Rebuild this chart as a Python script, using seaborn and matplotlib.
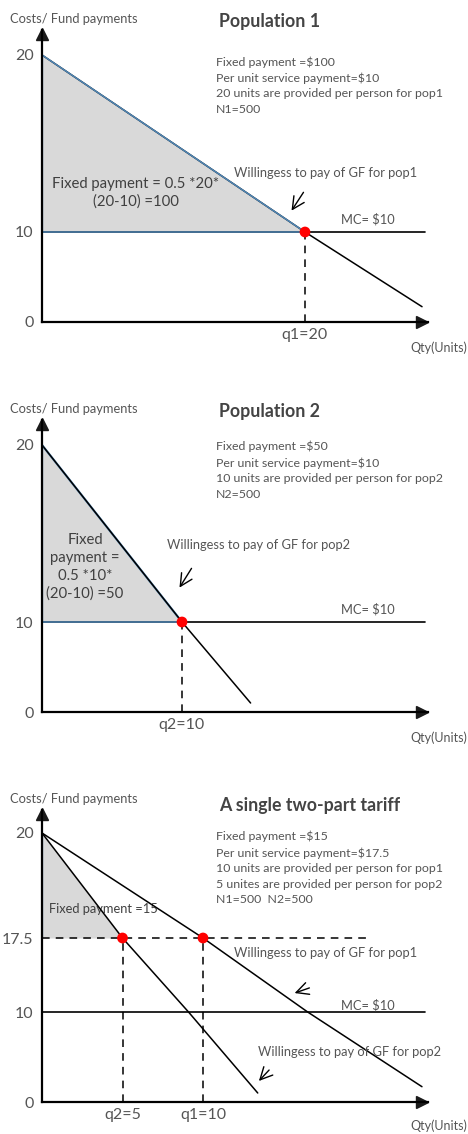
import numpy as np
import pandas as pd
import matplotlib
matplotlib.use("Agg")
import matplotlib.pyplot as plt
import seaborn as sns

sns.set_theme(style="white")
plt.rcParams["font.family"] = ["Lato", "DejaVu Sans"]

### Data
mc_price = 10

# Population 1
pop1_q = [0, 20, 28.9]
pop1_price = [20, 10, 1.7]
pop1_eq_q = [20]
pop1_eq_price = [10]

# Population 2
pop2_q = [0, 10, 14.9]
pop2_price = [20, 10, 1.0]
pop2_eq_q = [10]
pop2_eq_price = [10]

# Single two-part tariff
tar_pop1_q = [0, 10, 16.5, 23.6]
tar_pop1_price = [20, 17.5, 10, 1.7]
tar_pop2_q = [0, 5, 9.1, 13.4]
tar_pop2_price = [20, 17.5, 10, 1.0]
tar_price = 17.5
tar_eq_q = [5, 10]
tar_eq_price = [17.5, 17.5]

titles = ["Population 1", "Population 2", "A single two-part tariff"]
info_texts = [
    "Fixed payment =$100\nPer unit service payment=$10\n20 units are provided per person for pop1\nN1=500",
    "Fixed payment =$50\nPer unit service payment=$10\n10 units are provided per person for pop2\nN2=500",
    "Fixed payment =$15\nPer unit service payment=$17.5\n10 units are provided per person for pop1\n"
    "5 unites are provided per person for pop2\nN1=500  N2=500",
]
y_tick_vals = [[0, 10, 20], [0, 10, 20], [0, 10, 17.5, 20]]
x_tick_vals = [[20], [10], [5, 10]]
x_tick_labels = [["q1=20"], ["q2=10"], ["q2=5", "q1=10"]]

### Layout (pixels of the sketch)
W, H = 468, 1134
origins = [322, 712, 1102]           # y pixel of the origin in each panel
y_heights = [[0, 90, 267], [0, 90, 267], [0, 90, 164, 269]]  # drawn height of each y tick
x_ppu = [13.15, 14.0, 16.1]          # pixels per unit on the quantity axis
AX_LEFT, AX_W, AX_H = 42, 386, 292

GREY = "#d9d9d9"
BLUE = "#4f86b5"
TXT = "#555555"
DARK = "#404040"


def piecewise_scale(vals, heights):
    vals = np.asarray(vals, float)
    heights = np.asarray(heights, float)
    slope = (heights[-1] - heights[-2]) / (vals[-1] - vals[-2])
    v = np.append(vals, vals[-1] + 100)
    h = np.append(heights, heights[-1] + 100 * slope)
    return (lambda y: np.interp(y, v, h)), (lambda z: np.interp(z, h, v))


def ftext(x, y, s, **kw):
    kw.setdefault("color", TXT)
    kw.setdefault("va", "center")
    fig.text(x / W, 1 - y / H, s, **kw)


def farrow(tail, head):
    axes[0].annotate("", xy=(head[0], H - head[1]), xytext=(tail[0], H - tail[1]),
                     xycoords="figure pixels", textcoords="figure pixels",
                     arrowprops=dict(arrowstyle="->", color="black", lw=1.0,
                                     mutation_scale=22))


fig = plt.figure(figsize=(W / 100, H / 100), dpi=100)
axes = []
for i in range(3):
    ax = fig.add_axes([AX_LEFT / W, 1 - origins[i] / H, AX_W / W, AX_H / H])
    fwd, inv = piecewise_scale(y_tick_vals[i], y_heights[i])
    ax.set_yscale("function", functions=(fwd, inv))
    ax.set_ylim(0, float(inv(AX_H)))
    ax.set_xlim(0, AX_W / x_ppu[i])
    sns.despine(ax=ax)
    for side in ["left", "bottom"]:
        ax.spines[side].set_color("black")
        ax.spines[side].set_linewidth(1.6)
    ax.set_yticks(y_tick_vals[i])
    ax.set_yticklabels([f"{v:g}" for v in y_tick_vals[i]])
    ax.set_xticks(x_tick_vals[i])
    ax.set_xticklabels(x_tick_labels[i])
    ax.tick_params(length=0, labelsize=11.5, labelcolor=TXT)
    ax.tick_params(axis="y", pad=6)
    ax.tick_params(axis="x", pad=4)
    ax.minorticks_off()
    ax.set_facecolor("none")
    # arrow heads on the axes
    ax.plot(0.985, 0, ">k", ms=9, transform=ax.get_yaxis_transform(), clip_on=False)
    ax.plot(0, 0.985, "^k", ms=9, transform=ax.get_xaxis_transform(), clip_on=False)
    axes.append(ax)

### Panel 1
ax = axes[0]
df1 = pd.DataFrame({"q": pop1_q, "p": pop1_price})
ax.fill_between(pop1_q[:2], pop1_price[:2], mc_price, color=GREY, lw=0)
ax.axhline(mc_price, xmax=(425 - AX_LEFT) / AX_W, color="black", lw=1.2)
sns.lineplot(data=df1, x="q", y="p", color="black", lw=1.1, estimator=None, ax=ax)
ax.plot(pop1_q[:2], pop1_price[:2], color=BLUE, lw=1.1)
ax.plot([0, 0], [mc_price, pop1_price[0]], color=BLUE, lw=1.6)
ax.plot([0, pop1_eq_q[0]], [mc_price, mc_price], color=BLUE, lw=1.1)
ax.vlines(pop1_eq_q, 0, pop1_eq_price, colors="black", lw=1.1, linestyles=(0, (5, 4)))
sns.scatterplot(x=pop1_eq_q, y=pop1_eq_price, color="red", s=60, edgecolor="none",
                zorder=5, ax=ax, clip_on=False)

### Panel 2
ax = axes[1]
df2 = pd.DataFrame({"q": pop2_q, "p": pop2_price})
ax.fill_between(pop2_q[:2], pop2_price[:2], mc_price, color=GREY, lw=0)
ax.axhline(mc_price, xmax=(425 - AX_LEFT) / AX_W, color="black", lw=1.2)
ax.plot(pop2_q[:2], pop2_price[:2], color=BLUE, lw=1.6)
sns.lineplot(data=df2, x="q", y="p", color="black", lw=1.1, estimator=None, ax=ax)
ax.plot([0, 0], [mc_price, pop2_price[0]], color=BLUE, lw=1.6)
ax.plot([0, pop2_eq_q[0]], [mc_price, mc_price], color=BLUE, lw=1.1)
ax.vlines(pop2_eq_q, 0, pop2_eq_price, colors="black", lw=1.1, linestyles=(0, (5, 4)))
sns.scatterplot(x=pop2_eq_q, y=pop2_eq_price, color="red", s=60, edgecolor="none",
                zorder=5, ax=ax, clip_on=False)

### Panel 3
ax = axes[2]
ax.fill_between(tar_pop2_q[:2], tar_pop2_price[:2], tar_price, color=GREY, lw=0, zorder=0.5)
ax.annotate("Fixed payment =15", xy=(49, H - 909), xycoords="figure pixels",
            fontsize=9.3, color=DARK, va="center", zorder=1)
ax.plot([0, 0], [tar_price, tar_pop2_price[0]], color=BLUE, lw=1.6)
ax.axhline(mc_price, xmax=(425 - AX_LEFT) / AX_W, color="black", lw=1.2)
df3 = pd.DataFrame({"q": tar_pop1_q + tar_pop2_q,
                    "p": tar_pop1_price + tar_pop2_price,
                    "pop": ["pop1"] * len(tar_pop1_q) + ["pop2"] * len(tar_pop2_q)})
sns.lineplot(data=df3, x="q", y="p", units="pop", color="black", lw=1.1,
             estimator=None, ax=ax)
ax.hlines(tar_price, 0, (372 - AX_LEFT) / x_ppu[2], colors="black", lw=1.1,
          linestyles=(0, (5, 4)))
ax.vlines(tar_eq_q, 0, tar_eq_price, colors="black", lw=1.1, linestyles=(0, (5, 4)))
sns.scatterplot(x=tar_eq_q, y=tar_eq_price, color="red", s=60, edgecolor="none",
                zorder=5, ax=ax, clip_on=False)

for ax in axes:
    ax.set_xlabel("")
    ax.set_ylabel("")
    leg = ax.get_legend()
    if leg is not None:
        leg.remove()

### Texts
costs_y = [19, 409, 799]
title_y = [22, 412, 806]
qty_y = [348, 738, 1126]
mc_y = [219, 609, 1005]
info_y = [56, 441, 831]
for i in range(3):
    ftext(10, costs_y[i], "Costs/ Fund payments", fontsize=9.3)
    ftext(467, qty_y[i], "Qty(Units)", fontsize=9, ha="right")
    ftext(219, title_y[i], titles[i], fontsize=12.8, weight="bold", color="#444444")
    ftext(341, mc_y[i], "MC= $10", fontsize=9.3)
    ftext(216, info_y[i], info_texts[i], va="top", fontsize=8.9, linespacing=1.5)

ftext(136, 193, "Fixed payment = 0.5 *20*\n(20-10) =100", fontsize=10.7, color=DARK,
      ha="center", linespacing=1.25)
ftext(85, 567, "Fixed\npayment =\n0.5 *10*\n(20-10) =50", fontsize=10.7, color=DARK,
      ha="center", linespacing=1.35)

ftext(234, 173, "Willingess to pay of GF for pop1", fontsize=9.3)
ftext(167, 545, "Willingess to pay of GF for pop2", fontsize=9.3)
ftext(234, 953, "Willingess to pay of GF for pop1", fontsize=9.3)
ftext(258, 1052, "Willingess to pay of GF for pop2", fontsize=9.3)

farrow((305, 190), (290, 213))
farrow((193, 566), (178, 590))
farrow((312, 987), (292, 994))
farrow((271, 1068), (257, 1083))

fig.savefig("out.png", dpi=100)
